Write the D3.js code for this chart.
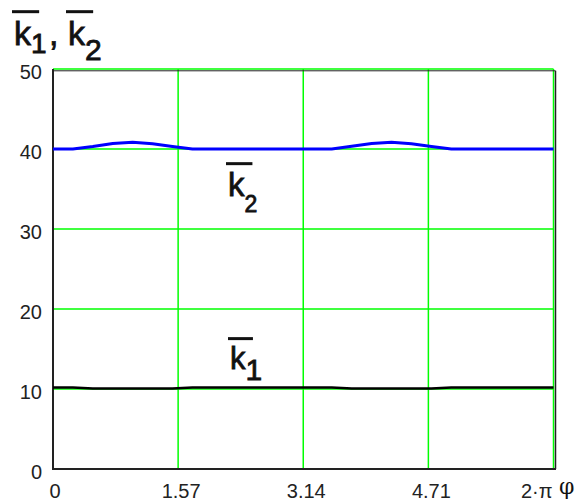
<!DOCTYPE html>
<html lang="en">
<head>
  <meta charset="UTF-8">
  <title>k1, k2 vs phi</title>
  <script src="https://d3js.org/d3.v7.min.js"></script>
  <style>
    body { margin: 0; background: #fff; }
    .tick-label { font-family: "Liberation Sans Narrow", "Liberation Sans", Arial, sans-serif; font-size: 20px; fill: #222; }
    .klabel { font-family: "Liberation Sans", Arial, sans-serif; fill: #111; stroke: #111; stroke-width: 0.8px; }
  </style>
</head>
<body>
  <div id="chart"></div>
  <script>
    // angle samples (rad)
    const phi = [0, 0.25, 0.5, 0.75, 1.0, 1.25, 1.5, 1.75, 2.0, 2.25, 2.5, 2.75, 3.0, 3.25,
                 3.5, 3.75, 4.0, 4.25, 4.5, 4.75, 5.0, 5.25, 5.5, 5.75, 6.0, 6.283];
    const k1 = [10.2, 10.2, 10.05, 10.05, 10.05, 10.05, 10.05, 10.2, 10.2, 10.2, 10.2, 10.2, 10.2, 10.2,
                10.2, 10.05, 10.05, 10.05, 10.05, 10.05, 10.2, 10.2, 10.2, 10.2, 10.2, 10.2];
    const k2 = [40, 40, 40.3, 40.7, 40.85, 40.65, 40.3, 40, 40, 40, 40, 40, 40, 40,
                40, 40.35, 40.7, 40.85, 40.65, 40.3, 40, 40, 40, 40, 40, 40];

    const xTicks = [0, Math.PI / 2, Math.PI, 3 * Math.PI / 2, 2 * Math.PI];
    const xTickLabels = ["0", "1.57", "3.14", "4.71", "2\u00b7\u03c0"];
    const yTicks = [0, 10, 20, 30, 40, 50];

    const width = 577, height = 502;
    const svg = d3.select("#chart").append("svg")
      .attr("width", width)
      .attr("height", height);

    const x = d3.scaleLinear().domain([0, 2 * Math.PI]).range([53, 553.5]);
    const y = d3.scaleLinear().domain([0, 50]).range([469, 69]);

    // green grid
    svg.append("g").selectAll("line.v")
      .data(xTicks.slice(1))
      .enter().append("line")
      .attr("x1", d => x(d)).attr("x2", d => x(d))
      .attr("y1", y(0)).attr("y2", y(50))
      .attr("stroke", "#00ff00").attr("stroke-width", 1.5);

    svg.append("g").selectAll("line.h")
      .data(yTicks.slice(1))
      .enter().append("line")
      .attr("x1", x(0)).attr("x2", x(2 * Math.PI))
      .attr("y1", d => y(d)).attr("y2", d => y(d))
      .attr("stroke", "#00ff00").attr("stroke-width", 1.5);

    // black frame (top/right offset from the grid)
    svg.append("line").attr("x1", x(0)).attr("x2", x(2 * Math.PI) + 2)
      .attr("y1", y(50) + 1.8).attr("y2", y(50) + 1.8)
      .attr("stroke", "#222").attr("stroke-width", 1);
    svg.append("line").attr("x1", x(2 * Math.PI) + 2).attr("x2", x(2 * Math.PI) + 2)
      .attr("y1", y(50) + 1.8).attr("y2", y(0))
      .attr("stroke", "#222").attr("stroke-width", 1.5);
    svg.append("line").attr("x1", x(0)).attr("x2", x(0))
      .attr("y1", y(50)).attr("y2", y(0) + 1)
      .attr("stroke", "#222").attr("stroke-width", 2);
    svg.append("line").attr("x1", x(0)).attr("x2", x(2 * Math.PI) + 2.5)
      .attr("y1", y(0)).attr("y2", y(0))
      .attr("stroke", "#222").attr("stroke-width", 2);

    // curves
    const line = d3.line().x((d, i) => x(phi[i])).y(d => y(d));
    svg.append("path").datum(k2)
      .attr("d", line).attr("fill", "none")
      .attr("stroke", "#0000ff").attr("stroke-width", 3);
    svg.append("path").datum(k1)
      .attr("d", line).attr("fill", "none")
      .attr("stroke", "#000").attr("stroke-width", 2.5);

    // tick labels
    svg.append("g").selectAll("text")
      .data(yTicks)
      .enter().append("text")
      .attr("class", "tick-label")
      .attr("x", 42).attr("y", d => y(d) + 10)
      .attr("text-anchor", "end")
      .text(d => d);

    svg.append("g").selectAll("text")
      .data(xTicks)
      .enter().append("text")
      .attr("class", "tick-label")
      .attr("x", (d, i) => i === xTicks.length - 1 ? x(d) - 1 : x(d) + (i === 0 ? 2 : 3))
      .attr("y", 498)
      .attr("text-anchor", (d, i) => i === xTicks.length - 1 ? "end" : "middle")
      .text((d, i) => xTickLabels[i]);

    svg.append("text")
      .attr("x", 559).attr("y", 494)
      .attr("font-family", "'DejaVu Serif', 'Liberation Serif', serif")
      .attr("font-size", 22).attr("fill", "#111")
      .text("\u03c6");

    // k labels with overbars
    function kLabel(px, py, sub, size, subSize, subDy) {
      const g = svg.append("g");
      const t = g.append("text").attr("class", "klabel")
        .attr("x", px).attr("y", py).attr("font-size", size);
      t.append("tspan").text("k");
      t.append("tspan").attr("font-size", subSize).attr("dy", subDy).text(sub);
      g.append("line")
        .attr("x1", px - 2).attr("x2", px + size * 0.74)
        .attr("y1", py - size * 0.98).attr("y2", py - size * 0.98)
        .attr("stroke", "#111").attr("stroke-width", 3);
      return g;
    }

    kLabel(14, 45, "1", 34, 28, 8);
    svg.append("text").attr("class", "klabel")
      .attr("x", 49).attr("y", 45).attr("font-size", 34).text(",");
    kLabel(68, 45, "2", 34, 30, 15);

    kLabel(228, 196, "2", 33, 23, 16);
    kLabel(230, 369, "1", 31, 30, 11);
  </script>
</body>
</html>
